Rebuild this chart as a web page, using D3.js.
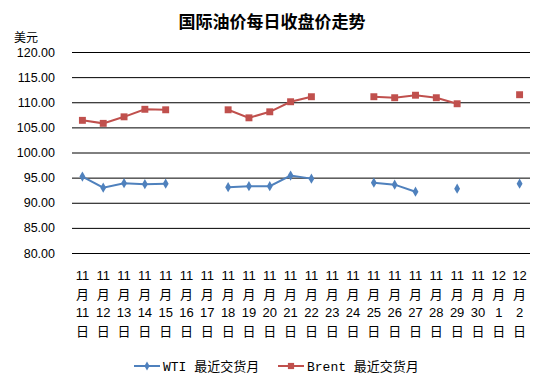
<!DOCTYPE html>
<meta charset="utf-8">
<title>国际油价每日收盘价走势</title>
<style>
  body { margin: 0; background: #fff; }
  text { font-family: "Liberation Sans", Arial, "Noto Sans CJK SC", sans-serif; fill: #000; }
  .legend text { font-family: "Liberation Mono", "Noto Sans CJK SC", monospace; }
</style>
<body>
<script src="https://cdn.jsdelivr.net/npm/d3@7"></script>
<script>

const days = ["11月11日", "11月12日", "11月13日", "11月14日", "11月15日", "11月16日", "11月17日",
  "11月18日", "11月19日", "11月20日", "11月21日", "11月22日", "11月23日", "11月24日",
  "11月25日", "11月26日", "11月27日", "11月28日", "11月29日", "11月30日", "12月1日", "12月2日"];

const wti = [95.2, 93.0, 93.9, 93.7, 93.8, null, null,
  93.1, 93.3, 93.3, 95.4, 94.8, null, null,
  94.0, 93.6, 92.2, null, 92.8, null, null, 93.8];

const brent = [106.4, 105.8, 107.1, 108.6, 108.5, null, null,
  108.5, 106.9, 108.1, 110.1, 111.1, null, null,
  111.1, 110.9, 111.4, 110.9, 109.7, null, null, 111.5];

const yTicks = [80, 85, 90, 95, 100, 105, 110, 115, 120];

const width = 544, height = 384;
const plotLeft = 72, plotRight = 530, plotTop = 52, plotBottom = 253;

const svg = d3.select("body").append("svg")
    .attr("width", width)
    .attr("height", height);

const x = d3.scaleBand().domain(days).range([plotLeft, plotRight]);
const y = d3.scaleLinear().domain([80, 120]).range([plotBottom, plotTop]);

// title
svg.append("text")
    .attr("x", 272).attr("y", 28)
    .attr("text-anchor", "middle")
    .style("font-size", "17px")
    .style("font-weight", "bold")
    .style("font-family", "'Noto Sans CJK SC', sans-serif")
    .text("国际油价每日收盘价走势");

svg.append("text")
    .attr("x", 14).attr("y", 42)
    .style("font-size", "12px")
    .style("font-family", "'Noto Sans CJK SC', sans-serif")
    .text("美元");

// grid + y labels
const yAxis = svg.append("g")
    .attr("transform", `translate(${plotLeft},0)`)
    .call(d3.axisLeft(y).tickValues(yTicks).tickSize(-(plotRight - plotLeft)).tickFormat(d3.format(".2f")).tickPadding(17));
yAxis.select(".domain").remove();
yAxis.selectAll(".tick line").attr("stroke", "#000");
yAxis.selectAll(".tick text").style("font-size", "12.5px").attr("fill", "#000");

// x labels, four lines each
const xl = svg.append("g").selectAll("text")
    .data(days)
  .enter().append("text")
    .attr("text-anchor", "middle")
    .style("font-size", "13px");
xl.each(function(d) {
  const m = d.match(/(\d+)月(\d+)日/);
  const parts = [m[1], "月", m[2], "日"];
  const cx = x(d) + x.bandwidth() / 2;
  d3.select(this).selectAll("tspan")
      .data(parts)
    .enter().append("tspan")
      .attr("x", cx)
      .attr("y", (p, i) => 280 + i * 18.6)
      .style("font-family", (p, i) => i % 2 ? "'Noto Sans CJK SC', sans-serif" : null)
      .text(p => p);
});

const cx = (d, i) => x(days[i]) + x.bandwidth() / 2;
const line = d3.line()
    .defined(d => d !== null)
    .x(cx)
    .y(d => y(d));

const series = [
  { name: "WTI 最近交货月", values: wti, color: "#4F81BD", shape: d3.symbolDiamond, size: 30 },
  { name: "Brent 最近交货月", values: brent, color: "#C0504D", shape: d3.symbolSquare, size: 48 }
];

series.forEach(s => {
  svg.append("path")
      .attr("d", line(s.values))
      .attr("fill", "none")
      .attr("stroke", s.color)
      .attr("stroke-width", 2);
  svg.append("g").selectAll("path")
      .data(s.values.map((v, i) => ({ v, i })).filter(d => d.v !== null))
    .enter().append("path")
      .attr("transform", d => `translate(${cx(d.v, d.i)},${y(d.v)})`)
      .attr("d", d3.symbol().type(s.shape).size(s.size))
      .attr("fill", s.color);
});

// legend
const legend = svg.append("g").attr("class", "legend");
const legendX = [134, 278];
series.forEach((s, k) => {
  const g = legend.append("g").attr("transform", `translate(${legendX[k]},366)`);
  g.append("line").attr("x1", 0).attr("x2", 26).attr("stroke", s.color).attr("stroke-width", 2);
  g.append("path").attr("transform", "translate(13,0)")
      .attr("d", d3.symbol().type(s.shape).size(s.size * 0.8)).attr("fill", s.color);
  g.append("text").attr("x", 29).attr("y", 5).style("font-size", "13px").text(s.name);
});

</script>
</body>
